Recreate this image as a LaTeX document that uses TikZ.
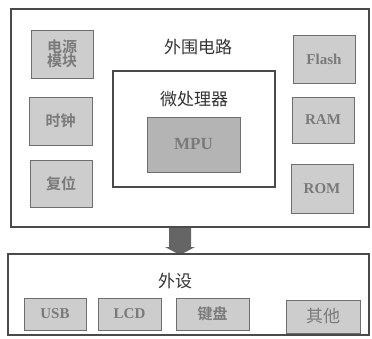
\documentclass[tikz,border=0pt]{standalone}
\usepackage{fontspec}
\setmainfont{Liberation Serif}
\newfontfamily\cjk{Noto Sans CJK SC}
\newfontfamily\cjkb{Noto Sans CJK SC Bold}
\definecolor{linec}{HTML}{4A4A4A}
\definecolor{boxfill}{HTML}{CDCDCD}
\definecolor{mpufill}{HTML}{B4B4B4}
\definecolor{txtc}{HTML}{7A7A7A}
\begin{document}
\begin{tikzpicture}[x=1pt,y=-1pt,
  frame/.style={draw=linec,line width=1.6pt},
  unit/.style={draw=linec!80,line width=0.8pt,fill=boxfill},
  utext/.style={text=txtc,font=\cjkb\fontsize{15}{16}\selectfont,align=center},
  etext/.style={text=txtc,font=\bfseries\fontsize{15}{16}\selectfont},
  title/.style={text=black!80,font=\cjk\fontsize{17}{18}\selectfont}]
\useasboundingbox (0,0) rectangle (372,339);
% outer frame
\draw[frame] (11,9) rectangle (369,227);
\node[title] (t1) at (198,47) {外围电路};
% left units
\draw[unit] (31,30) rectangle (93,78);
\node[utext] (pw) at (62,54) {电源\\[-2pt]模块};
\draw[unit] (29,97) rectangle (92,145);
\node[utext] (clk) at (60.5,121) {时钟};
\draw[unit] (30,160) rectangle (92,207);
\node[utext] (rst) at (61,184) {复位};
% microprocessor
\draw[frame] (113,71) rectangle (275,187);
\node[title] (t2) at (194,99) {微处理器};
\draw[unit,fill=mpufill] (147,117) rectangle (240,172);
\node[etext,font=\bfseries\fontsize{17}{18}\selectfont] (mpu) at (193.5,144) {MPU};
% right units
\draw[unit] (293,35) rectangle (355,83);
\node[etext] (fl) at (324,59) {Flash};
\draw[unit] (292,97) rectangle (354,143);
\node[etext] (ram) at (323,120) {RAM};
\draw[unit] (291,164) rectangle (353,213);
\node[etext] (rom) at (322,188.5) {ROM};
% arrow
\fill[linec!85] (169,228) -- (191,228) -- (191,247) -- (195,247) -- (180,255)
  -- (165,247) -- (169,247) -- cycle;
% lower frame
\draw[frame] (8,254) rectangle (369,335);
\node[title] (t3) at (175,281) {外设};
\draw[unit] (24,298) rectangle (86,330);
\node[etext] (usb) at (55,314) {USB};
\draw[unit] (98,298) rectangle (161,330);
\node[etext] (lcd) at (129.5,314) {LCD};
\draw[unit] (176,298) rectangle (249,330);
\node[utext] (kb) at (212.5,314) {键盘};
\draw[unit] (286,300) rectangle (360,333);
\node[utext,font=\cjk\fontsize{17}{18}\selectfont] (oth) at (323,316.5) {其他};
\end{tikzpicture}
\end{document}
